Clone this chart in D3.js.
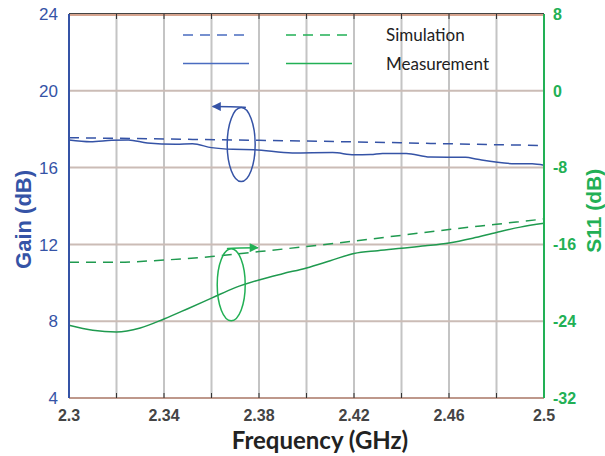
<!DOCTYPE html>
<html>
<head>
<meta charset="utf-8">
<script src="https://cdn.jsdelivr.net/npm/d3@7"></script>
<style>
  body { margin: 0; background: #fff; }
  svg { display: block; }
</style>
</head>
<body>
<div id="chart"></div>
<script>
// 数据
var gainSimFreq = [2.30, 2.34, 2.38, 2.42, 2.46, 2.50];
var gainSim = [17.56, 17.49, 17.42, 17.34, 17.24, 17.15];

var gainMeasFreq = [2.300, 2.309, 2.318, 2.325, 2.333, 2.345, 2.352, 2.360, 2.369, 2.378, 2.394, 2.411, 2.420, 2.427, 2.432, 2.442, 2.452, 2.467, 2.472, 2.488, 2.495, 2.500];
var gainMeas = [17.44, 17.35, 17.42, 17.44, 17.28, 17.21, 17.24, 17.04, 16.95, 16.93, 16.76, 16.78, 16.67, 16.68, 16.74, 16.74, 16.55, 16.54, 16.43, 16.20, 16.20, 16.12];

var s11SimFreq = [2.30, 2.32, 2.34, 2.36, 2.38, 2.40, 2.42, 2.44, 2.46, 2.48, 2.50];
var s11Sim = [-17.86, -17.86, -17.63, -17.27, -16.75, -16.22, -15.65, -15.05, -14.45, -13.90, -13.35];

var s11MeasFreq = [2.30, 2.31, 2.32, 2.33, 2.34, 2.35, 2.36, 2.37, 2.38, 2.39, 2.40, 2.41, 2.42, 2.43, 2.44, 2.45, 2.46, 2.47, 2.48, 2.49, 2.50];
var s11Meas = [-24.43, -24.95, -25.13, -24.71, -23.77, -22.70, -21.60, -20.50, -19.70, -19.05, -18.45, -17.70, -16.95, -16.65, -16.40, -16.15, -15.85, -15.35, -14.75, -14.20, -13.80];

var xTicks = [2.3, 2.34, 2.38, 2.42, 2.46, 2.5];
var xGrid = [2.32, 2.34, 2.36, 2.38, 2.40, 2.42, 2.44, 2.46, 2.48];
var gainTicks = [4, 8, 12, 16, 20, 24];
var s11Ticks = [-32, -24, -16, -8, 0, 8];

// 设置常数
var MARGIN = { top: 14, right: 61, bottom: 58, left: 69 };
var WIDTH = 605 - MARGIN.left - MARGIN.right;
var HEIGHT = 456 - MARGIN.top - MARGIN.bottom;

var BLUE = "#3553a6";
var GREEN = "#1f9a4f";
var GREEN_LIGHT = "#22b055";

var svg = d3.select("#chart")
  .append("svg")
  .attr("width", 605)
  .attr("height", 456)
  .append("g")
  .attr("transform", "translate(" + MARGIN.left + "," + MARGIN.top + ")");

var x = d3.scaleLinear().domain([2.3, 2.5]).range([0, WIDTH]);
var yL = d3.scaleLinear().domain([4, 24]).range([HEIGHT, 0]);
var yR = d3.scaleLinear().domain([-32, 8]).range([HEIGHT, 0]);

// 网格
svg.selectAll(".vgrid")
  .data(xGrid)
  .enter()
  .append("line")
  .attr("x1", function (d) { return x(d); })
  .attr("x2", function (d) { return x(d); })
  .attr("y1", 0)
  .attr("y2", HEIGHT)
  .attr("stroke", "#c4c4c4")
  .attr("stroke-width", 2);

svg.selectAll(".hgrid")
  .data([8, 12, 16, 20])
  .enter()
  .append("line")
  .attr("x1", 0)
  .attr("x2", WIDTH)
  .attr("y1", function (d) { return yL(d); })
  .attr("y2", function (d) { return yL(d); })
  .attr("stroke", "#cbbcb6")
  .attr("stroke-width", 2);

// 上下边框
svg.append("line")
  .attr("x1", 0).attr("x2", WIDTH)
  .attr("y1", 1).attr("y2", 1)
  .attr("stroke", "#c9866a").attr("stroke-width", 1.5);
svg.append("line")
  .attr("x1", 0).attr("x2", WIDTH)
  .attr("y1", -0.5).attr("y2", -0.5)
  .attr("stroke", "#444").attr("stroke-width", 1);
svg.append("line")
  .attr("x1", 0).attr("x2", WIDTH)
  .attr("y1", HEIGHT).attr("y2", HEIGHT)
  .attr("stroke", "#a87664").attr("stroke-width", 1.5);

// 刻度线（上下）
var allTicks = d3.range(0, 11).map(function (i) { return 2.3 + i * 0.02; });
svg.selectAll(".tickTop")
  .data(allTicks.slice(1, 10))
  .enter()
  .append("line")
  .attr("x1", function (d) { return x(d); })
  .attr("x2", function (d) { return x(d); })
  .attr("y1", 0).attr("y2", 5)
  .attr("stroke", "#333").attr("stroke-width", 1);
svg.selectAll(".tickBot")
  .data(allTicks.slice(1, 10))
  .enter()
  .append("line")
  .attr("x1", function (d) { return x(d); })
  .attr("x2", function (d) { return x(d); })
  .attr("y1", HEIGHT).attr("y2", HEIGHT - 5)
  .attr("stroke", "#333").attr("stroke-width", 1);

// 线
var lineGain = d3.line()
  .x(function (d) { return x(d[0]); })
  .y(function (d) { return yL(d[1]); })
  .curve(d3.curveMonotoneX);
var lineS11 = d3.line()
  .x(function (d) { return x(d[0]); })
  .y(function (d) { return yR(d[1]); })
  .curve(d3.curveMonotoneX);

svg.append("path")
  .datum(d3.zip(gainSimFreq, gainSim))
  .attr("d", lineGain)
  .attr("fill", "none")
  .attr("stroke", BLUE)
  .attr("stroke-width", 1.5)
  .attr("stroke-dasharray", "10,7");
svg.append("path")
  .datum(d3.zip(gainMeasFreq, gainMeas))
  .attr("d", lineGain)
  .attr("fill", "none")
  .attr("stroke", BLUE)
  .attr("stroke-width", 1.5);
svg.append("path")
  .datum(d3.zip(s11SimFreq, s11Sim))
  .attr("d", lineS11)
  .attr("fill", "none")
  .attr("stroke", GREEN)
  .attr("stroke-width", 1.5)
  .attr("stroke-dasharray", "10,7");
svg.append("path")
  .datum(d3.zip(s11MeasFreq, s11Meas))
  .attr("d", lineS11)
  .attr("fill", "none")
  .attr("stroke", GREEN)
  .attr("stroke-width", 1.5);

// 椭圆标注
var defs = svg.append("defs");
function marker(id, color) {
  defs.append("marker")
    .attr("id", id)
    .attr("viewBox", "0 0 10 10")
    .attr("refX", 9).attr("refY", 5)
    .attr("markerWidth", 7).attr("markerHeight", 6)
    .attr("orient", "auto")
    .append("path")
    .attr("d", "M0,0L10,5L0,10Z")
    .attr("fill", color);
}
marker("arrBlue", BLUE);
marker("arrGreen", GREEN_LIGHT);

// 蓝色椭圆 (Gain -> 左轴)
svg.append("ellipse")
  .attr("cx", x(2.3725)).attr("cy", yL(17.2))
  .attr("rx", 14).attr("ry", 37)
  .attr("fill", "none").attr("stroke", BLUE).attr("stroke-width", 1.5);
svg.append("path")
  .attr("d", "M" + x(2.3745) + "," + (yL(17.2) - 37) + "C" + x(2.372) + "," + (yL(17.2) - 38) + " " + x(2.37) + "," + (yL(17.2) - 38) + " " + x(2.3605) + "," + (yL(17.2) - 38))
  .attr("fill", "none").attr("stroke", BLUE).attr("stroke-width", 1.5)
  .attr("marker-end", "url(#arrBlue)");

// 绿色椭圆 (S11 -> 右轴)
svg.append("ellipse")
  .attr("cx", x(2.3683)).attr("cy", yR(-20.2))
  .attr("rx", 14).attr("ry", 36)
  .attr("fill", "none").attr("stroke", GREEN_LIGHT).attr("stroke-width", 1.5);
svg.append("path")
  .attr("d", "M" + x(2.3665) + "," + (yR(-20.2) - 36) + "C" + x(2.368) + "," + (yR(-20.2) - 37) + " " + x(2.37) + "," + (yR(-20.2) - 37) + " " + x(2.3795) + "," + (yR(-20.2) - 37))
  .attr("fill", "none").attr("stroke", GREEN_LIGHT).attr("stroke-width", 1.5)
  .attr("marker-end", "url(#arrGreen)");

// 左右轴线
svg.append("line")
  .attr("x1", 0).attr("x2", 0).attr("y1", 0).attr("y2", HEIGHT)
  .attr("stroke", BLUE).attr("stroke-width", 2);
svg.append("line")
  .attr("x1", WIDTH).attr("x2", WIDTH).attr("y1", 0).attr("y2", HEIGHT)
  .attr("stroke", GREEN_LIGHT).attr("stroke-width", 2);

// 刻度标签
svg.selectAll(".lt")
  .data(gainTicks)
  .enter()
  .append("text")
  .attr("x", -11)
  .attr("y", function (d) { return yL(d); })
  .attr("dy", "0.36em")
  .attr("text-anchor", "end")
  .style("font-family", "'Liberation Sans', Arial, sans-serif")
  .style("font-size", "17px")
  .attr("fill", BLUE)
  .text(function (d) { return d; });

svg.selectAll(".rt")
  .data(s11Ticks)
  .enter()
  .append("text")
  .attr("x", WIDTH + 9)
  .attr("y", function (d) { return yR(d); })
  .attr("dy", "0.36em")
  .attr("text-anchor", "start")
  .style("font-family", "'Liberation Sans', Arial, sans-serif")
  .style("font-size", "16px")
  .style("font-weight", "bold")
  .attr("fill", GREEN_LIGHT)
  .text(function (d) { return d; });

svg.selectAll(".bt")
  .data(xTicks)
  .enter()
  .append("text")
  .attr("x", function (d) { return x(d); })
  .attr("y", HEIGHT + 23)
  .attr("text-anchor", "middle")
  .style("font-family", "'Liberation Sans', Arial, sans-serif")
  .style("font-size", "16px")
  .style("font-weight", "bold")
  .attr("fill", "#444")
  .text(function (d) { return d; });

// 坐标轴标题
svg.append("text")
  .attr("x", 251)
  .attr("y", HEIGHT + 51)
  .attr("text-anchor", "middle")
  .style("font-family", "Lato, 'Open Sans', sans-serif")
  .style("font-size", "24px")
  .style("font-weight", "bold")
  .attr("fill", "#222")
  .text("Frequency (GHz)");

svg.append("text")
  .attr("transform", "rotate(-90)")
  .attr("x", -yL(13.3))
  .attr("y", -38)
  .attr("text-anchor", "middle")
  .style("font-family", "'Liberation Sans', Arial, sans-serif")
  .style("font-size", "22px")
  .style("font-weight", "bold")
  .attr("fill", BLUE)
  .text("Gain (dB)");

svg.append("text")
  .attr("transform", "rotate(-90)")
  .attr("x", -yR(-12.5))
  .attr("y", WIDTH + 57)
  .attr("text-anchor", "middle")
  .style("font-family", "'Liberation Sans', Arial, sans-serif")
  .style("font-size", "21px")
  .style("font-weight", "bold")
  .attr("fill", GREEN_LIGHT)
  .text("S11 (dB)");

// 图例
var legendRows = [
  { label: "Simulation", dash: "10,7", y: 21 },
  { label: "Measurement", dash: null, y: 49.5 }
];
legendRows.forEach(function (r) {
  svg.append("line")
    .attr("x1", 114).attr("x2", 180)
    .attr("y1", r.y).attr("y2", r.y)
    .attr("stroke", "#4a6cc0").attr("stroke-width", 1.5)
    .attr("stroke-dasharray", r.dash);
  svg.append("line")
    .attr("x1", 217).attr("x2", 283)
    .attr("y1", r.y).attr("y2", r.y)
    .attr("stroke", GREEN_LIGHT).attr("stroke-width", 1.5)
    .attr("stroke-dasharray", r.dash);
  svg.append("text")
    .attr("x", 317)
    .attr("y", r.y + 6)
    .style("font-family", "Lato, 'Open Sans', sans-serif")
    .style("font-size", "17px")
    .attr("fill", "#222")
    .text(r.label);
});
</script>
</body>
</html>
